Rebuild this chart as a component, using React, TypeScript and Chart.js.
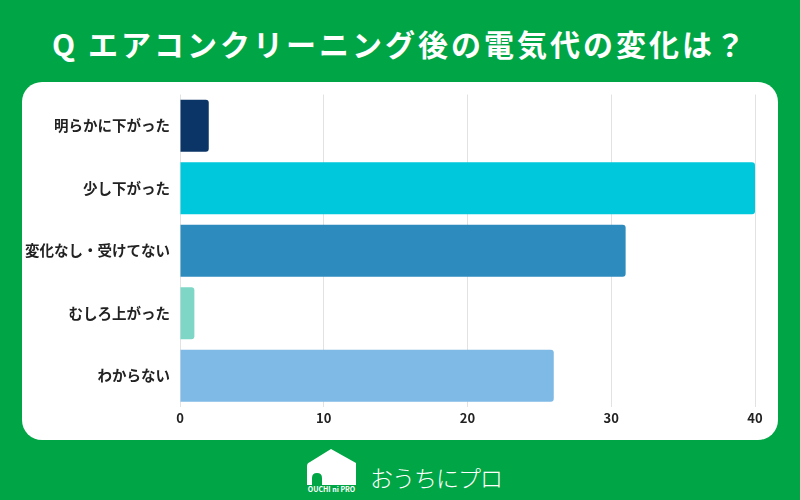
import React, { useEffect, useRef } from "react";
import { Chart, registerables } from "chart.js";

Chart.register(...registerables);

const title = "Q エアコンクリーニング後の電気代の変化は？";
const categories = ["明らかに下がった", "少し下がった", "変化なし・受けてない", "むしろ上がった", "わからない"];
const values = [2, 40, 31, 1, 26];
const barColors = ["#0B3566", "#00C8DC", "#2E8BBE", "#7DD6C6", "#7FB9E6"];
const xMin = 0;
const xMax = 40;
const xStep = 10;
const brandText = "おうちにプロ";
const brandSub = "OUCHI ni PRO";

const FONT = '"Noto Sans CJK JP", "Noto Sans", sans-serif';
const GREEN = "#00A645";

function BarChart() {
  const ref = useRef<HTMLCanvasElement | null>(null);
  useEffect(() => {
    if (!ref.current) return;
    const chart = new Chart(ref.current, {
      type: "bar",
      data: {
        labels: categories,
        datasets: [
          {
            data: values,
            backgroundColor: barColors,
            borderRadius: 3,
            barPercentage: 0.835,
            categoryPercentage: 1,
          },
        ],
      },
      options: {
        indexAxis: "y",
        responsive: false,
        animation: false,
        layout: { padding: { top: 12.5, right: 23, bottom: 0, left: 0 } },
        plugins: { legend: { display: false }, tooltip: { enabled: false } },
        scales: {
          x: {
            min: xMin,
            max: xMax,
            ticks: {
              stepSize: xStep,
              color: "#222",
              padding: 3,
              font: { family: FONT, size: 13, weight: "bold" },
            },
            grid: { color: "#e2e2e2", drawTicks: false },
            border: { display: false },
            afterFit: (s: any) => {
              s.height = 33;
            },
          },
          y: {
            ticks: {
              color: "#222",
              padding: 10,
              font: { family: FONT, size: 14.5, weight: "bold" },
            },
            grid: { display: false, drawTicks: false },
            border: { display: false },
            afterFit: (s: any) => {
              s.width = 158;
              s.paddingTop = 0;
              s.paddingBottom = 0;
            },
          },
        },
      },
    });
    return () => chart.destroy();
  }, []);
  return <canvas ref={ref} width={756} height={358} style={{ display: "block" }} />;
}

function Logo() {
  return (
    <div style={{ position: "absolute", left: 303, top: 447, width: 200, height: 52 }}>
      <svg width={56} height={52} style={{ position: "absolute", left: 0, top: 0 }}>
        <path
          d="M4 19 Q4 16 7 15 L28 2 L53 16 L53 38 L4 38 Z M9 38 L9 31 Q9 26 14 26 Q19 26 19 31 L19 38 Z"
          fill="#fff"
          fillRule="evenodd"
        />
        <text x={28.5} y={45} fill="#fff" fontSize={7} textAnchor="middle" fontFamily={FONT} fontWeight="bold">
          {brandSub}
        </text>
      </svg>
      <div
        style={{
          position: "absolute",
          left: 67,
          top: 16,
          color: "#fff",
          fontFamily: FONT,
          fontWeight: 300,
          fontSize: 23,
          lineHeight: "28px",
          whiteSpace: "nowrap",
          letterSpacing: -1,
        }}
      >
        {brandText}
      </div>
    </div>
  );
}

export default function App() {
  useEffect(() => {
    document.body.style.margin = "0";
  }, []);
  return (
    <div style={{ position: "relative", width: 800, height: 500, background: GREEN, overflow: "hidden", fontFamily: FONT }}>
      <div
        style={{
          position: "absolute",
          left: 0,
          top: 25,
          width: 800,
          textAlign: "center",
          color: "#fff",
          fontWeight: "bold",
          fontSize: 30,
          lineHeight: "36px",
          letterSpacing: 3,
          whiteSpace: "nowrap",
        }}
      >
        {title}
      </div>
      <div
        style={{
          position: "absolute",
          left: 22,
          top: 82,
          width: 756,
          height: 358,
          background: "#fff",
          borderRadius: 20,
          overflow: "hidden",
        }}
      >
        <BarChart />
      </div>
      <Logo />
    </div>
  );
}
